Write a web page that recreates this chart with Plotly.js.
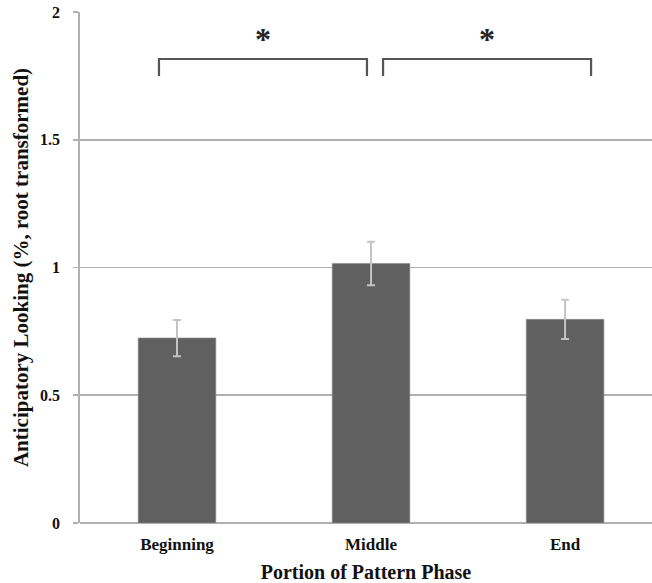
<!DOCTYPE html>
<html>
<head>
<meta charset="utf-8">
<script src="https://cdn.plot.ly/plotly-3.0.1.min.js"></script>
<style>html,body{margin:0;padding:0;background:#fff;overflow:hidden;}</style>
</head>
<body>
<div id="chart" style="width:652px;height:583px;"></div>
<script>
const categories = ["Beginning", "Middle", "End"];
const means = [0.724, 1.016, 0.797];
const sem = [0.071, 0.085, 0.077];
const yTickVals = [0, 0.5, 1, 1.5, 2];
const yTickText = ["0", "0.5", "1", "1.5", "2"];
const sigLabels = ["*", "*"];

const font = "'Liberation Serif', 'Times New Roman', serif";

const trace = {
  type: "bar",
  x: categories,
  y: means,
  width: 0.40,
  marker: {color: "#606060", line: {color: "#8a8a8a", width: 0.6}},
  error_y: {type: "data", array: sem, visible: true, color: "#c4c4c4", thickness: 2, width: 4},
  hoverinfo: "skip"
};

// bracket geometry (annotation layout)
const brackets = [
  {x0: -0.093, x1: 0.979},
  {x0: 1.062, x1: 2.134}
];
const bracketTop = 1.816, bracketLow = 1.750, starY = 1.895;

const shapes = [];
const annotations = [];
brackets.forEach((b, i) => {
  shapes.push({
    type: "path", xref: "x", yref: "y",
    path: `M ${b.x0},${bracketLow} L ${b.x0},${bracketTop} L ${b.x1},${bracketTop} L ${b.x1},${bracketLow}`,
    line: {color: "#555555", width: 2.2}
  });
  annotations.push({
    xref: "x", yref: "y", x: (b.x0 + b.x1) / 2, y: starY,
    text: "<b>" + sigLabels[i] + "</b>", showarrow: false,
    font: {family: font, size: 32, color: "#222222"}, yanchor: "middle"
  });
});

const layout = {
  width: 652, height: 583,
  margin: {l: 80, r: 0, t: 12, b: 60},
  paper_bgcolor: "#ffffff", plot_bgcolor: "#ffffff",
  showlegend: false,
  font: {family: font, color: "#111111"},
  xaxis: {
    type: "category",
    range: [-0.5, 2.448],
    showgrid: false, zeroline: false,
    showline: false,
    ticks: "outside", ticklen: 6, tickcolor: "rgba(0,0,0,0)",
    tickvals: categories, ticktext: categories.map(c => "<b>" + c + "</b>"),
    tickfont: {family: font, size: 17, color: "#111111"},
    title: {text: "<b>Portion of Pattern Phase</b>", font: {family: font, size: 20, color: "#111111"}, standoff: 12},
    automargin: false,
    fixedrange: true
  },
  yaxis: {
    range: [0, 2],
    tickvals: yTickVals, ticktext: yTickText.map(t => "<b>" + t + "</b>"),
    tickfont: {family: font, size: 16, color: "#111111"},
    ticklabelstandoff: 10,
    showgrid: true, gridcolor: "#b0b0b0", gridwidth: 1.8,
    zeroline: true, zerolinecolor: "#b0b0b0", zerolinewidth: 1.8,
    showline: true, linecolor: "#b0b0b0", linewidth: 1.8,
    ticks: "outside", ticklen: 5, tickcolor: "#b0b0b0", tickwidth: 1.8,
    title: {text: "<b>Anticipatory Looking (%, root transformed)</b>", font: {family: font, size: 21, color: "#111111"}, standoff: 6},
    automargin: false,
    fixedrange: true
  },
  shapes: shapes,
  annotations: annotations,
  bargap: 0.6
};

Plotly.newPlot("chart", [trace], layout, {displayModeBar: false, staticPlot: true});
</script>
</body>
</html>
